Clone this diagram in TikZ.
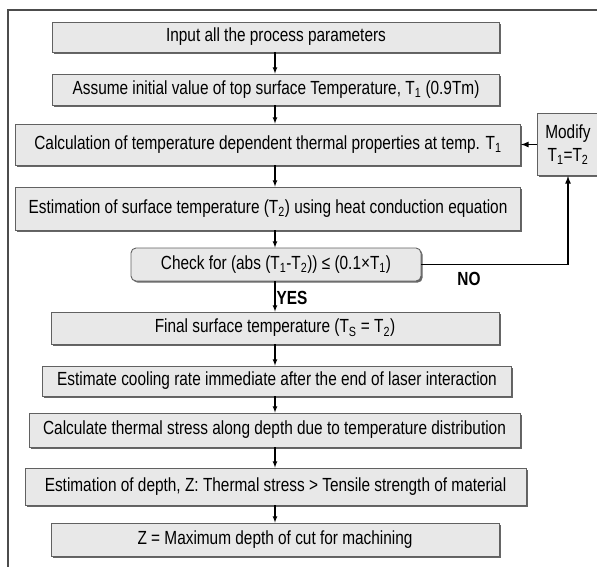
\documentclass[tikz,border=0pt]{standalone}
\usepackage{fontspec}
\setmainfont{Liberation Sans}[FakeStretch=0.81]
\usetikzlibrary{shadows}

\begin{document}
\begin{tikzpicture}[x=1pt, y=-1pt, >=latex,
    stepbox/.style={draw=black!62, line width=0.9pt, fill=black!9, inner sep=0pt,
        align=center, font=\fontsize{19}{22}\selectfont,
        drop shadow={shadow xshift=1.6pt, shadow yshift=-1.6pt, fill=black!60, opacity=1}},
    flow/.style={->, line width=1.1pt},
    loopline/.style={->, line width=1.6pt},
    tag/.style={font=\bfseries\fontsize{19}{22}\selectfont}]
            % ==== PAGE AND FRAME ====
            \useasboundingbox (0,0) rectangle (597,566);
            \clip (0,0) rectangle (597,566);
            \draw[black!70, line width=1.3pt] (8,570) -- (8,10) -- (600,10);
            \coordinate (axis) at (275,0);

            % ==== STEPS ====
            \node[stepbox, minimum width=447, minimum height=30] (input) at (276,37)
                {Input all the process parameters};
            \node[stepbox, minimum width=447, minimum height=31] (assume) at (276,89.5)
                {Assume initial value of top surface Temperature, T\textsubscript{1} (0.9Tm)};
            \node[stepbox, minimum width=505, minimum height=41] (props) at (268,144.5)
                {Calculation of temperature dependent thermal properties at temp. T\textsubscript{1}};
            \node[stepbox, minimum width=505, minimum height=43] (surf) at (268,208.5)
                {Estimation of surface temperature (T\textsubscript{2}) using heat conduction equation};
            \node[stepbox, rounded corners=5pt, minimum width=290, minimum height=33] (check) at (276,264.5)
                {Check for (abs (T\textsubscript{1}-T\textsubscript{2})) ≤ (0.1×T\textsubscript{1})};
            \node[stepbox, minimum width=448, minimum height=32] (final) at (275,328)
                {Final surface temperature (T\textsubscript{S} = T\textsubscript{2})};
            \node[stepbox, minimum width=469, minimum height=30] (cool) at (277,381)
                {Estimate cooling rate immediate after the end of laser interaction};
            \node[stepbox, minimum width=491, minimum height=34] (stress) at (274.5,430)
                {Calculate thermal stress along depth due to temperature distribution};
            \node[stepbox, minimum width=501, minimum height=37] (depth) at (275.5,486.5)
                {Estimation of depth, Z: Thermal stress > Tensile strength of material};
            \node[stepbox, minimum width=448, minimum height=33] (maxz) at (275,539.5)
                {Z = Maximum depth of cut for machining};
            \node[stepbox, minimum width=62, minimum height=62] (modify) at (568,144.5)
                {Modify\\[1pt]T\textsubscript{1}=T\textsubscript{2}};

            % ==== DOWNWARD ARROWS ====
            \foreach \a/\b in {input/assume, assume/props, props/surf, surf/check,
                               final/cool, cool/stress, stress/depth, depth/maxz}
                \draw[flow] (\a.south -| axis) -- (\b.north -| axis);
            \draw[flow] (check.south -| axis) -- (final.north -| axis)
                node[pos=0.55, right, inner sep=1pt, tag] (yes) {YES};

            % ==== FEEDBACK LOOP ====
            \draw[loopline] (check.east) -- (check.east -| modify.south) -- (modify.south);
            \draw[loopline] (modify.west |- props.east) -- (props.east);
            \node[tag] (no) at (469,279) {NO};
         \end{tikzpicture}
\end{document}
